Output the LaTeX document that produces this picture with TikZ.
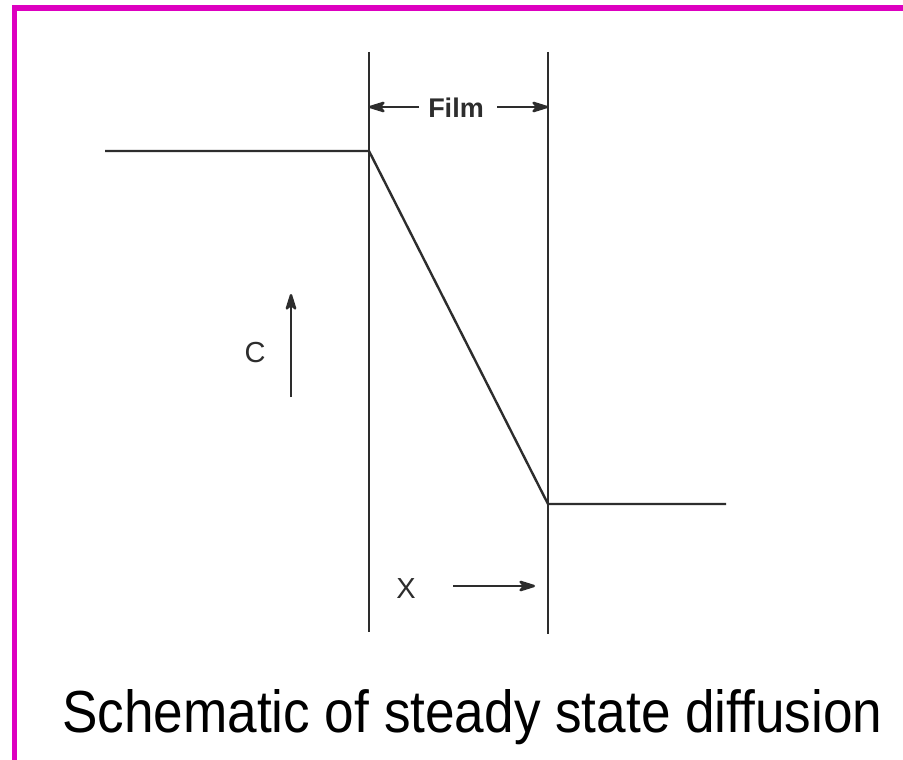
\documentclass[tikz,border=0pt]{standalone}
\usepackage{fontspec}
\setmainfont{Liberation Sans}
\usetikzlibrary{arrows.meta}
\definecolor{mag}{RGB}{221,0,192}
\definecolor{ink}{RGB}{45,45,45}
\begin{document}
\begin{tikzpicture}[x=1pt,y=-1pt,
  wire/.style={draw=ink,line width=2.4pt},
  arr/.style={draw=ink,line width=2.4pt,-{Stealth[length=21pt,width=13pt,inset=6pt,round]}},
  lab/.style={text=ink,inner sep=0pt,font=\fontsize{29}{32}\selectfont}]
\useasboundingbox (0,0) rectangle (903,760);
\fill[white] (0,0) rectangle (903,760);
\fill[mag] (12,5) rectangle (903,11);
\fill[mag] (12,5) rectangle (17,760);
% film boundaries
\coordinate (lt) at (369,52);
\coordinate (lb) at (369,632);
\coordinate (rt) at (548,52);
\coordinate (rb) at (548,634);
\draw[wire] (lt) -- (lb);
\draw[wire] (rt) -- (rb);
% concentration profile
\coordinate (hl) at (105,151);
\coordinate (k1) at (369,151);
\coordinate (k2) at (548,504);
\coordinate (hr) at (726,504);
\draw[wire,line join=round] (hl) -- (k1) -- (k2) -- (hr);
% Film label
\node[lab,font=\fontsize{27}{30}\selectfont\bfseries] (film) at (456,108) {Film};
\coordinate (fla) at (419,107);
\coordinate (flb) at (369,107);
\coordinate (fra) at (497,107);
\coordinate (frb) at (548,107);
\draw[arr] (fla) -- (flb);
\draw[arr] (fra) -- (frb);
% C axis
\node[lab] (c) at (255,353) {C};
\coordinate (cb) at (291,397);
\coordinate (ct) at (291,294);
\draw[arr] (cb) -- (ct);
% X axis
\node[lab] (x) at (406,589) {X};
\coordinate (xa) at (453,586);
\coordinate (xb) at (535,586);
\draw[arr] (xa) -- (xb);
% caption
\node[anchor=base west,inner sep=0pt] (cap) at (62,732)
  {\resizebox{820pt}{43pt}{Schematic of steady state diffusion}};
\end{tikzpicture}
\end{document}
